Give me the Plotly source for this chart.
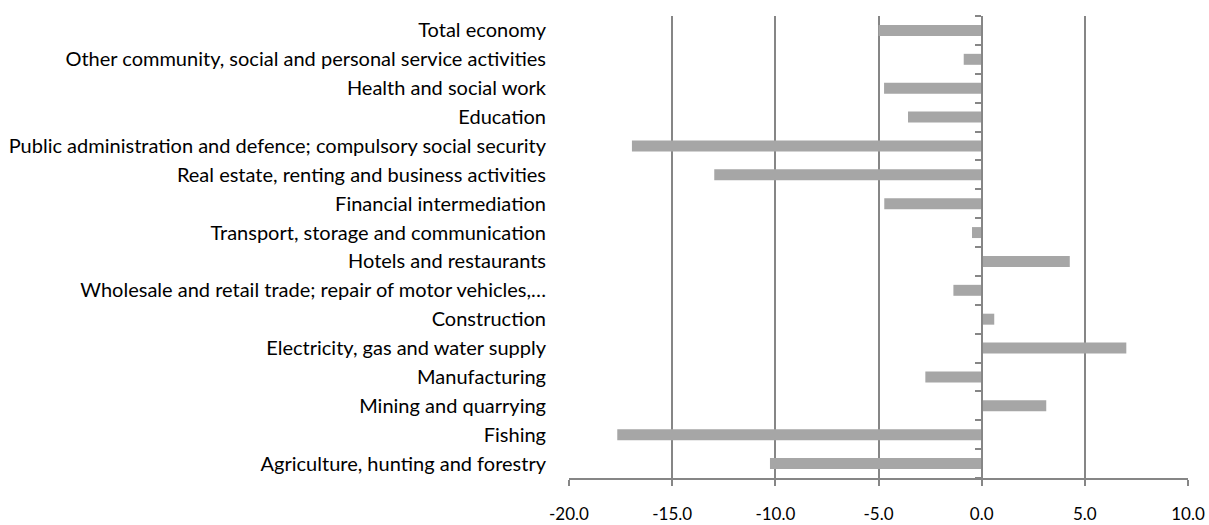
import plotly.graph_objects as go

sectors = [
    "Agriculture, hunting and forestry",
    "Fishing",
    "Mining and quarrying",
    "Manufacturing",
    "Electricity, gas and water supply",
    "Construction",
    "Wholesale and retail trade; repair of motor vehicles,…",
    "Hotels and restaurants",
    "Transport, storage and communication",
    "Financial intermediation",
    "Real estate, renting and business activities",
    "Public administration and defence; compulsory social security",
    "Education",
    "Health and social work",
    "Other community, social and personal service activities",
    "Total economy",
]

change = [-10.26, -17.66, 3.13, -2.73, 7.01, 0.61, -1.37, 4.27,
          -0.47, -4.72, -12.96, -16.95, -3.57, -4.73, -0.87, -5.0]

x_ticks = [-20, -15, -10, -5, 0, 5, 10]
x_labels = ["-20.0", "-15.0", "-10.0", "-5.0", "0.0", "5.0", "10.0"]

GRID = "#868686"
FONT = "Lato, Carlito, Calibri, sans-serif"

fig = go.Figure()

fig.add_trace(go.Bar(
    y=sectors,
    x=change,
    orientation="h",
    marker=dict(color="#A6A6A6", line=dict(width=0)),
    width=0.38,
    hoverinfo="x+y",
))

# invisible trace so the category axis drawn at zero shows up
fig.add_trace(go.Bar(
    y=sectors,
    x=[0] * len(sectors),
    orientation="h",
    yaxis="y2",
    showlegend=False,
    hoverinfo="skip",
    marker=dict(color="rgba(0,0,0,0)"),
))

fig.update_layout(
    width=1209,
    height=525,
    paper_bgcolor="white",
    plot_bgcolor="white",
    showlegend=False,
    margin=dict(l=569, r=21, t=16, b=47),
    font=dict(family=FONT, size=20, color="#000000"),
    xaxis=dict(
        range=[-20, 10],
        tickvals=x_ticks,
        ticktext=x_labels,
        tickfont=dict(size=17),
        showgrid=True,
        gridcolor=GRID,
        gridwidth=1.5,
        zeroline=False,
        showline=True,
        linecolor=GRID,
        linewidth=1.5,
        ticks="outside",
        ticklen=6,
        tickcolor=GRID,
        tickwidth=1.5,
        ticklabelstandoff=14,
        automargin=False,
        domain=[0, 1],
    ),
    yaxis=dict(
        categoryorder="array",
        categoryarray=sectors,
        showgrid=False,
        zeroline=False,
        showline=False,
        ticks="",
        ticklabelstandoff=22,
        automargin=False,
    ),
    yaxis2=dict(
        overlaying="y",
        anchor="free",
        position=2 / 3,
        categoryorder="array",
        categoryarray=sectors,
        matches="y",
        showticklabels=False,
        showgrid=False,
        zeroline=False,
        showline=True,
        linecolor=GRID,
        linewidth=1.5,
        ticks="outside",
        tickson="boundaries",
        ticklen=6,
        tickcolor=GRID,
        tickwidth=1.5,
        automargin=False,
    ),
)

# drop the default 8px body margin so the figure fills the window
fig.write_html(
    "out.html",
    config={"displayModeBar": False},
    post_script="document.body.style.margin='0';document.body.style.overflow='hidden';",
)
